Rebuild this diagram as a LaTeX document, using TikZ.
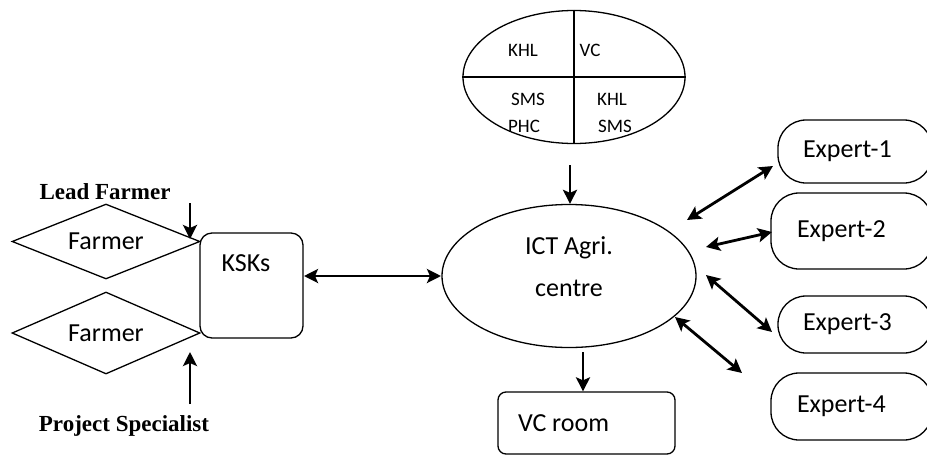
\documentclass[tikz,border=0pt]{standalone}
\usepackage{fontspec}
\setmainfont{Carlito}
\newfontfamily\timesfont{Liberation Serif}
\usetikzlibrary{positioning,shapes.geometric,arrows.meta}

\begin{document}
\begin{tikzpicture}[x=1pt,y=-1pt,line width=1.3,
    txt/.style={inner sep=0,font=\fontsize{26}{30}\selectfont},
    small/.style={inner sep=0,font=\fontsize{19}{22}\selectfont},
    bold/.style={inner sep=0,font=\timesfont\bfseries\fontsize{23}{26}\selectfont},
    farmer/.style={draw,diamond,aspect=2.5,minimum width=188,minimum height=75,inner sep=0,font=\fontsize{26}{30}\selectfont},
    expert/.style={draw,rounded corners=28,minimum width=154,minimum height=63,inner sep=0},
    arr/.style={line width=2.8,-{Stealth[length=14,width=14,inset=3]}},
    dbl/.style={line width=2.8,{Stealth[length=14,width=14,inset=3]}-{Stealth[length=14,width=14,inset=3]}}]
\useasboundingbox (0,0) rectangle (927,456);
% media ellipse
\node[draw,ellipse,minimum width=222,minimum height=133,inner sep=0] (media) at (574,77) {};
\draw (media.north)--(media.south);
\draw (media.west)--(media.east);
\node[small] (khla) at (523,50) {KHL};
\node[small] (vc) at (590,50) {VC};
\node[small] (smsa) at (528,99) {SMS};
\node[small] (phc) at (524,126) {PHC};
\node[small] (khlb) at (612,99) {KHL};
\node[small] (smsb) at (615,126) {SMS};
% centre
\node[draw,ellipse,minimum width=254,minimum height=143,inner sep=0] (ict) at (569,276) {};
\node[txt] (icta) at (569,248) {ICT Agri.};
\node[txt] (ictb) at (569,288) {centre};
\node[draw,rounded corners=8,minimum width=177,minimum height=62,inner sep=0] (room) at (586.5,423) {};
\node[txt,right=20 of room.west] (roomtxt) {VC room};
\coordinate (m1) at (570,165);
\draw[arr] (m1) -- (m1 |- ict.north);
\coordinate (v1) at (583,352);
\draw[arr] (v1) -- (v1 |- room.north);
% left side
\node[draw,rounded corners=12,minimum width=103,minimum height=105,inner sep=0] (ksk) at (251.5,285.5) {};
\node[txt] (ksktxt) at (246,263) {KSKs};
\node[farmer] (fa) at (106,241.5) {Farmer};
\node[farmer,minimum height=82] (fb) at (106,333) {Farmer};
\node[bold] (lead) at (105,192) {Lead Farmer};
\node[bold] (spec) at (124,426) {Project Specialist};
\coordinate (la) at (190,203);
\coordinate (lb) at (190,239);
\draw[arr] (la) -- (lb);
\coordinate (pa) at (190,404);
\coordinate (pb) at (190,352);
\draw[arr] (pa) -- (pb);
\coordinate (ka) at (304,276);
\coordinate (kb) at (441,276);
\draw[dbl] (ka) -- (kb);
% experts
\node[expert] (e1) at (855,151.5) {};
\node[expert,minimum width=161,minimum height=76] (e2) at (851.5,231) {};
\node[expert,minimum height=57] (e3) at (855,324.5) {};
\node[expert,minimum width=161,minimum height=67] (e4) at (851.5,406.5) {};
\node[txt,right=25 of e1.west] (t1) {Expert-1};
\node[txt,right=26 of e2.west] (t2) {Expert-2};
\node[txt,right=25 of e3.west] (t3) {Expert-3};
\node[txt,right=26 of e4.west] (t4) {Expert-4};
\coordinate (i1) at (687,220);
\coordinate (x1) at (773,166);
\coordinate (i2) at (706,247);
\coordinate (x2) at (772,232);
\coordinate (i3) at (706,275);
\coordinate (x3) at (772,332);
\coordinate (i4) at (675,317);
\coordinate (x4) at (742,373);
\draw[dbl] (i1) -- (x1);
\draw[dbl] (i2) -- (x2);
\draw[dbl] (i3) -- (x3);
\draw[dbl] (i4) -- (x4);
\end{tikzpicture}
\end{document}
